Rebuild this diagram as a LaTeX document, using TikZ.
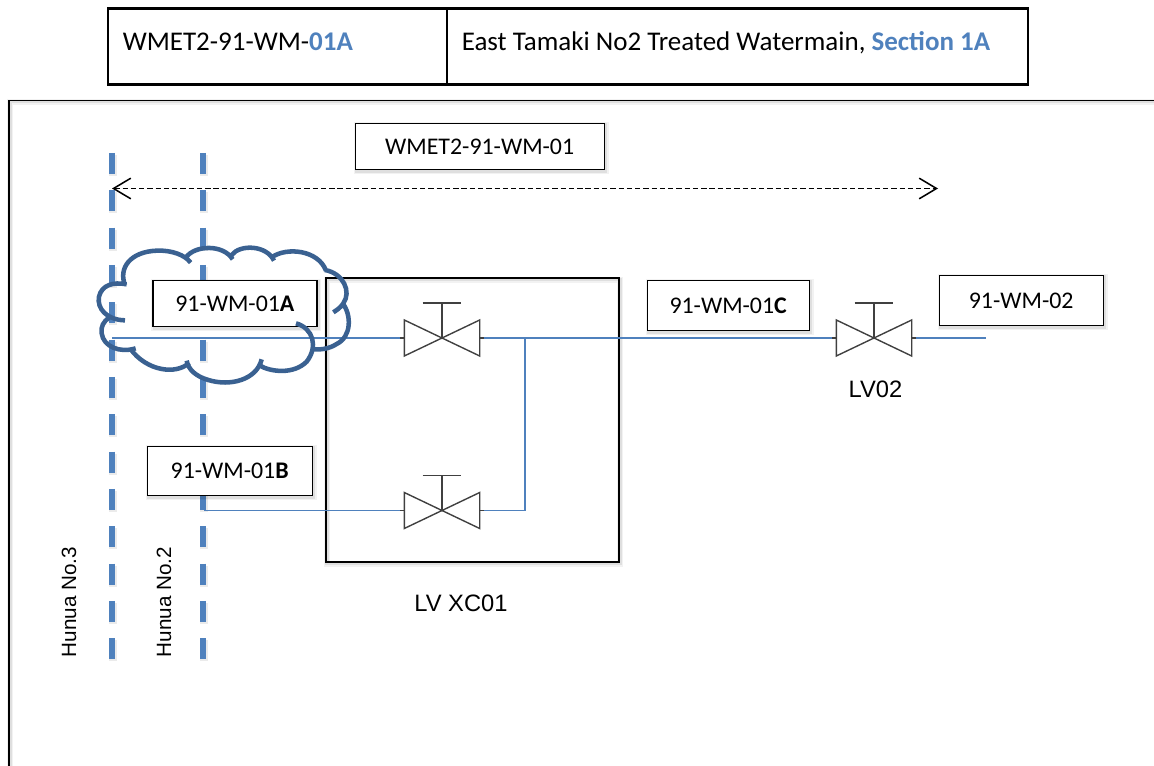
\documentclass[tikz,border=0pt]{standalone}
\usepackage{fontspec}
\setmainfont{Carlito}
\newfontfamily\arialf{Liberation Sans}
\usetikzlibrary{arrows.meta}
\definecolor{pipeblue}{HTML}{4F81BD}
\definecolor{cloudblue}{HTML}{3A6191}
\definecolor{headblue}{HTML}{4F81BD}
\definecolor{valvegray}{HTML}{404040}
\tikzset{
  softshadow/.style={preaction={draw=black,draw opacity=.05,line width=4.5pt,transform canvas={xshift=1pt,yshift=-1pt}},
                     preaction={draw=black,draw opacity=.08,line width=2.5pt,transform canvas={xshift=1pt,yshift=-1pt}}},
  labelbox/.style={draw=black,fill=white,line width=1pt,inner sep=0pt,align=center,font=\fontsize{17.9pt}{20pt}\selectfont,softshadow},
  headcell/.style={draw=black,line width=1.6pt,inner sep=0pt},
  headtext/.style={anchor=base west,inner sep=0pt,font=\fontsize{20.25pt}{24pt}\selectfont},
  plain/.style={inner sep=0pt,font=\arialf\fontsize{17.8pt}{20pt}\selectfont},
  side/.style={inner sep=0pt,rotate=90,font=\arialf\fontsize{15.5pt}{18pt}\selectfont},
  pipe/.style={draw=pipeblue,line width=1.4pt},
  route/.style={draw=pipeblue,line width=4.3pt,dash pattern=on 15.8pt off 12.2pt,preaction={draw=black,draw opacity=.08,line width=6pt,dash pattern=on 15.8pt off 12.2pt,transform canvas={xshift=.5pt,yshift=-1.5pt}}},
  valvebox/.style={minimum width=63pt,minimum height=27pt,inner sep=0pt},
  valveline/.style={draw=valvegray,line width=1.05pt},
  cloudline/.style={draw=cloudblue,line width=3.4pt,line cap=butt},
}
\newcommand{\drawvalve}[2]{%
  \node[valvebox] (#1) at (#2) {};
  \draw[valveline] (#1.center) -- ++(-37.7,-18) -- ++(0,36) -- cycle;
  \draw[valveline] (#1.center) -- ++(37.7,-18) -- ++(0,36) -- cycle;
  \draw[valveline] (#1.center) -- ++(0,-35) coordinate (#1stem);
  \draw[valveline] ([xshift=-14.5pt]#1stem) -- ([xshift=14.5pt]#1stem);
  \draw[valveline] (#1.west) -- ++(4,0);
  \draw[valveline] (#1.east) -- ++(-4,0);
}
\begin{document}
\begin{tikzpicture}[x=.75pt,y=-.75pt]
\useasboundingbox (0,0) rectangle (1154,766);
% header table
\node[headcell,minimum width=254.25pt,minimum height=57pt,anchor=north west] (h1) at (107.3,7.5) {};
\node[headcell,minimum width=435.75pt,minimum height=57pt,anchor=north west] (h2) at (446.3,7.5) {};
\node[headtext] (t1) at (122.5,50.5) {WMET2-91-WM-\textcolor{headblue}{\textbf{01A}}};
\node[headtext] (t2) at (461.5,50.5) {East Tamaki No2 Treated Watermain, \textcolor{headblue}{\textbf{Section 1A}}};
% frame
\draw[black,line width=1.2pt,softshadow] (9,770) -- (9,100.5) -- (1160,100.5);
% route lines
\coordinate (r3a) at (112,153); \coordinate (r3b) at (112,660);
\coordinate (r2a) at (203,153); \coordinate (r2b) at (203,660);
\draw[route] (r3a) -- (r3b);
\draw[route] (r2a) -- (r2b);
% dimension arrow
\coordinate (da) at (112,188.5); \coordinate (db) at (938,188.5);
\draw[black,line width=1.15pt,dash pattern=on 4pt off 2.2pt,{Straight Barb[length=13pt,width=15.5pt,line width=1.15pt]}-{Straight Barb[length=13pt,width=15.5pt,line width=1.15pt]}] (da) -- (db);
% big box
\node[draw=black,line width=1.5pt,minimum width=220pt,minimum height=213.2pt,anchor=north west,inner sep=0pt,softshadow] (lv) at (324.6,277.2) {};
% valves
\drawvalve{v1}{442,338}
\drawvalve{v2}{442,510.5}
\drawvalve{v3}{874,338}
% pipes
\coordinate (pa) at (112,338);
\coordinate (pb) at (204,510.5);
\coordinate (pj) at (525,338);
\coordinate (pk) at (595,338);
\coordinate (pe) at (986,338);
\draw[pipe] (pa) -- (v1.west);
\draw[pipe] (pb) -- (v2.west);
\draw[pipe] (v1.east) -- (pk);
\draw[pipe] (v2.east) -| (pj);
\draw[pipe,line width=1.2pt] (pj) -- (v3.west);
\draw[pipe] (v3.east) -- (pe);
% labels
\node[labelbox,minimum width=123pt,minimum height=34.5pt,anchor=north west] (a) at (152.2,280) {91-WM-01\textbf{A}};
\node[labelbox,minimum width=123.75pt,minimum height=36.75pt,anchor=north west] (b) at (146.5,446) {91-WM-01\textbf{B}};
\node[labelbox,minimum width=186.75pt,minimum height=34.5pt,anchor=north west] (w) at (354.5,123) {WMET2-91-WM-01};
\node[labelbox,minimum width=121.5pt,minimum height=37.5pt,anchor=north west] (c) at (646.5,280) {91-WM-01\textbf{C}};
\node[labelbox,minimum width=123pt,minimum height=37.5pt,anchor=north west] (d) at (938.5,275) {91-WM-02};
\node[plain] (n1) at (461,603) {LV XC01};
\node[plain] (n2) at (875.5,389) {LV02};
\node[side] (n3) at (69,602) {Hunua No.3};
\node[side] (n4) at (164,602) {Hunua No.2};
% cloud (coordinates taken on a 3x grid)
\begin{scope}[x=.25pt,y=-.25pt,shift={(240,420)}]
\draw[cloudline]
 (135,435) .. controls (115,385) and (150,335) .. (230,332) .. controls (275,330) and (315,345) .. (332,368)
 (318,352) .. controls (345,315) and (430,312) .. (458,358)
 (455,345) .. controls (480,312) and (560,315) .. (582,362)
 (575,352) .. controls (620,320) and (715,330) .. (738,392)
 (735,390) .. controls (790,400) and (815,455) .. (790,490) .. controls (780,505) and (770,510) .. (760,517)
 (788,490) .. controls (815,525) and (815,590) .. (770,612) .. controls (750,625) and (725,630) .. (700,628)
 (648,550) .. controls (700,565) and (715,620) .. (680,665) .. controls (640,705) and (570,695) .. (540,677)
 (545,658) .. controls (530,720) and (450,740) .. (385,720) .. controls (350,710) and (325,690) .. (320,662)
 (328,668) .. controls (290,705) and (200,695) .. (150,625)
 (167,625) .. controls (120,640) and (70,620) .. (65,580) .. controls (62,560) and (70,545) .. (88,532)
 (135,541) .. controls (80,540) and (50,505) .. (57,470) .. controls (65,435) and (100,425) .. (140,433);
\end{scope}
\end{tikzpicture}
\end{document}
